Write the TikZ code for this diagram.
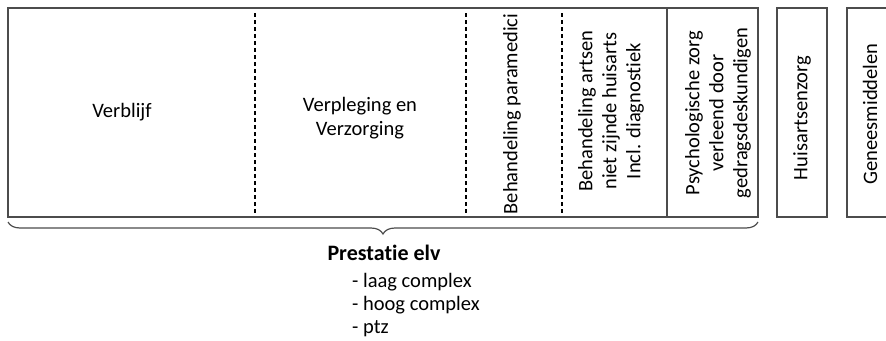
\documentclass[tikz,border=0pt]{standalone}
\usepackage{fontspec}
\setmainfont[Ligatures=NoCommon]{Carlito}
\usetikzlibrary{decorations.pathreplacing}

\begin{document}
\begin{tikzpicture}[x=1pt, y=-1pt,
  every node/.style={font=\fontsize{20.5}{24}\selectfont, align=center, inner sep=0pt, text=black},
  frame/.style={draw=black!70, line width=1.3pt},
  divider/.style={line width=1.4pt, dash pattern=on 4pt off 3pt},
  vert/.style={rotate=90}]
  \useasboundingbox (0,0) rectangle (886,340);
  \clip (0,0) rectangle (886,340);

  % boxes
  \draw[frame] (8,8) rectangle (758,217);
  \draw[frame] (777,8) rectangle (827,217);
  \draw[frame] (847,8) rectangle (898,217);

  % dividers
  \draw[divider] (255,13) -- (255,213);
  \draw[divider] (466,13) -- (466,213);
  \draw[divider] (562,13) -- (562,213);
  \draw[frame] (667,8) -- (667,217);

  % cell labels
  \node (verblijf) at (122,112) {Verblijf};
  \node (verpleging) at (360,118) {Verpleging en\\Verzorging};
  \node[vert] (paramedici) at (512,114) {Behandeling paramedici};
  \node[vert] (artsen) at (611,111) {Behandeling artsen\\niet zijnde huisarts\\Incl. diagnostiek};
  \node[vert] (psycho) at (718,113) {Psychologische zorg\\verleend door\\gedragsdeskundigen};
  \node[vert] (huisarts) at (802,118) {Huisartsenzorg};
  \node[vert] (genees) at (870,114) {Geneesmiddelen};

  % brace and prestatie
  \draw[draw=black!70, line width=1.2pt, decorate, decoration={brace, amplitude=12pt}] (758,222) -- (8,222);
  \node[font=\fontsize{22}{24}\selectfont\bfseries] (prestatie) at (384,253) {Prestatie elv};
  \node[anchor=north west, align=left, font=\fontsize{20.5}{23}\selectfont] (soorten) at (352,273) {- laag complex\\- hoog complex\\- ptz};
\end{tikzpicture}
\end{document}
